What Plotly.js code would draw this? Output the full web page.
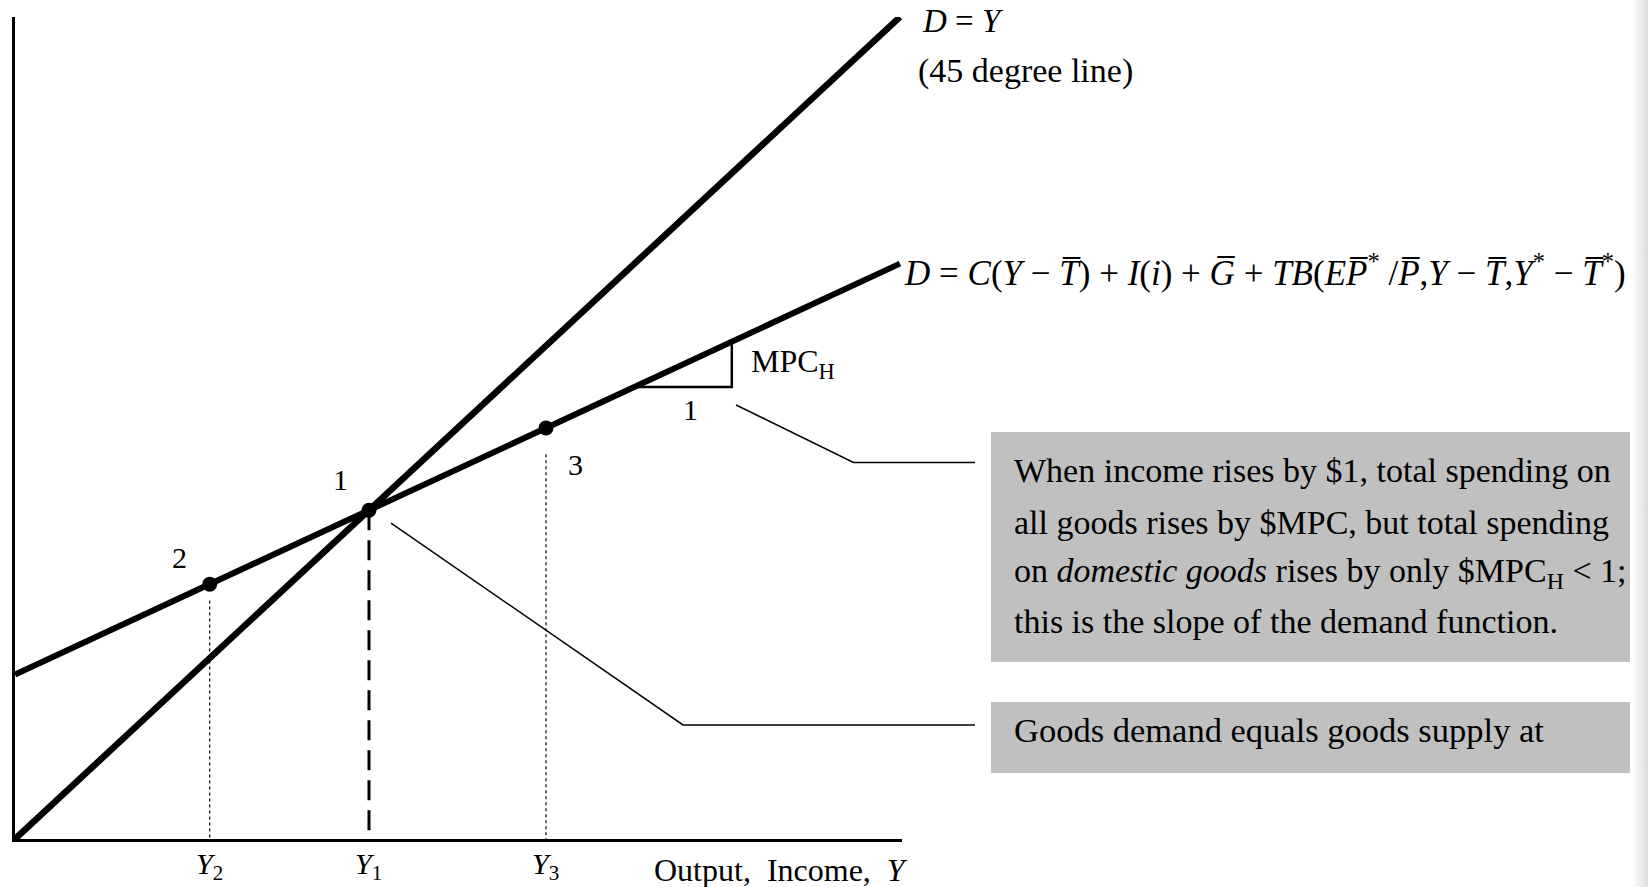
<!DOCTYPE html>
<html>
<head>
<meta charset="utf-8">
<script src="https://cdn.plot.ly/plotly-3.0.1.min.js"></script>
<style>
  html, body { margin: 0; padding: 0; }
  body {
    width: 1648px; height: 887px; overflow: hidden;
    background: linear-gradient(to right, #ffffff 0px, #ffffff 1632px, #dcdcdc 1648px);
  }
  #chart { width: 1648px; height: 887px; }
</style>
</head>
<body>
<div id="chart"></div>
<script>
// Goods-market equilibrium: the 45-degree line D = Y and the demand function.
const supplyX = [0, 100];          // D = Y (45 degree line)
const supplyY = [0, 100];
const demandX = [0, 100];          // D = C(Y - T) + I(i) + G + TB(...)
const demandY = [20, 70];
const pointX = [40, 22, 60];       // marked points 1, 2, 3 on the demand line
const pointY = [40, 31, 50];
const pointNames = ['1', '2', '3'];
const incomeTicks = [22, 40, 60];  // Y2, Y1, Y3
const incomeTickText = ['<i>Y</i><sub>2</sub>', '<i>Y</i><sub>1</sub>', '<i>Y</i><sub>3</sub>'];
const guideTopY = [29, 40, 46.8];  // tops of the drop lines at Y2, Y1, Y3
const slopeX = [70, 81, 81];       // run of 1 and rise of MPC_H along the demand line
const slopeY = [55, 55, 60.5];

const serif = 'Liberation Serif, Times New Roman, serif';
const black = '#000000';

const traces = [
  { x: supplyX, y: supplyY, mode: 'lines', line: { color: black, width: 6.5 }, hoverinfo: 'skip' },
  { x: demandX, y: demandY, mode: 'lines', line: { color: black, width: 6 }, hoverinfo: 'skip' },
  // dashed drop line at the equilibrium Y1
  { x: [incomeTicks[1], incomeTicks[1]], y: [guideTopY[1], 0], mode: 'lines',
    line: { color: black, width: 3, dash: '20px,10px' }, hoverinfo: 'skip' },
  // dotted drop lines at Y2 and Y3
  { x: [incomeTicks[0], incomeTicks[0]], y: [guideTopY[0], 0], mode: 'lines',
    line: { color: black, width: 1.2, dash: 'dot' }, hoverinfo: 'skip' },
  { x: [incomeTicks[2], incomeTicks[2]], y: [guideTopY[2], 0], mode: 'lines',
    line: { color: black, width: 1.2, dash: 'dot' }, hoverinfo: 'skip' },
  // slope triangle
  { x: slopeX, y: slopeY, mode: 'lines', line: { color: black, width: 2.5 }, hoverinfo: 'skip' },
  { x: pointX, y: pointY, mode: 'markers', marker: { color: black, size: 15 }, hoverinfo: 'skip' }
];

const txt = (x, y, text, size, extra) => Object.assign({
  x: x, y: y, text: text, showarrow: false, xanchor: 'left', yanchor: 'middle',
  font: { family: serif, size: size, color: black }
}, extra || {});
const onPaper = { xref: 'paper', yref: 'paper' };

const eq = '<i>D</i> = <i>C</i>(<i>Y</i> \u2212 <i>T\u0305</i>) + <i>I</i>(<i>i</i>) + <i>G\u0305</i> + ' +
  '<i>TB</i>(<i>EP\u0305</i><sup>*</sup> /<i>P\u0305</i>,<i>Y</i> \u2212 <i>T\u0305</i>,<i>Y</i><sup>*</sup> \u2212 <i>T\u0305</i><sup>*</sup>)';

// income levels marked under the horizontal axis
const incomeLabels = incomeTicks.map((v, i) =>
  txt(v, -0.0328, incomeTickText[i], 30, { xanchor: 'center', yref: 'paper' }));

const annotations = incomeLabels.concat([
  txt(1.0203, 0.9951, '<i>D</i> = <i>Y</i>', 33, onPaper),
  txt(1.0158, 0.9337, '(45 degree line)', 34, onPaper),
  txt(0.9995, 0.6910, eq, 35, onPaper),
  txt(82.9, 57.9, 'MPC<sub>H</sub>', 32),
  txt(76.3, 52.2, '1', 30, { xanchor: 'center' }),
  txt(36.8, 43.7, pointNames[0], 30, { xanchor: 'center' }),
  txt(18.6, 34.2, pointNames[1], 30, { xanchor: 'center' }),
  txt(63.3, 45.5, pointNames[2], 30, { xanchor: 'center' }),
  txt(0.7182, -0.0377, 'Output,  Income,  <i>Y</i>', 32, onPaper),
  // callout texts, to the right of the plot
  txt(1.124, 0.4477, 'When income rises by $1, total spending on', 34, onPaper),
  txt(1.124, 0.3856, 'all goods rises by $MPC, but total spending', 34, onPaper),
  txt(1.124, 0.3236, 'on <i>domestic goods</i> rises by only $MPC<sub>H</sub> &lt; 1;', 34, onPaper),
  txt(1.124, 0.2640, 'this is the slope of the demand function.', 34, onPaper),
  txt(1.124, 0.1320, 'Goods demand equals goods supply at', 34.5, onPaper)
]);

const shapes = [
  { type: 'rect', xref: 'paper', yref: 'paper', x0: 1.1003, x1: 1.8207, y0: 0.2153, y1: 0.4951,
    fillcolor: '#c0c0c0', line: { width: 0 }, layer: 'below' },
  { type: 'rect', xref: 'paper', yref: 'paper', x0: 1.1003, x1: 1.8207, y0: 0.0803, y1: 0.1667,
    fillcolor: '#c0c0c0', line: { width: 0 }, layer: 'below' },
  { type: 'path', xref: 'paper', yref: 'paper', path: 'M 0.8129 0.5280 L 0.9453 0.4580 L 1.0823 0.4580',
    line: { color: black, width: 1.5 } },
  { type: 'path', xref: 'paper', yref: 'paper', path: 'M 0.4239 0.3844 L 0.7531 0.1387 L 1.0823 0.1387',
    line: { color: black, width: 1.5 } }
];

const layout = {
  width: 1648, height: 887,
  margin: { l: 15, r: 746, t: 17, b: 48, pad: 0 },
  paper_bgcolor: 'rgba(0,0,0,0)', plot_bgcolor: 'rgba(0,0,0,0)',
  showlegend: false,
  xaxis: {
    range: [0, 100.23], showgrid: false, zeroline: false, showline: true,
    linecolor: black, linewidth: 3, ticks: '', showticklabels: false, fixedrange: true
  },
  yaxis: {
    range: [0, 100], showgrid: false, zeroline: false, showline: true,
    linecolor: black, linewidth: 3, ticks: '', showticklabels: false, fixedrange: true
  },
  annotations: annotations,
  shapes: shapes
};

Plotly.newPlot('chart', traces, layout, { displayModeBar: false, staticPlot: true });
</script>
</body>
</html>
